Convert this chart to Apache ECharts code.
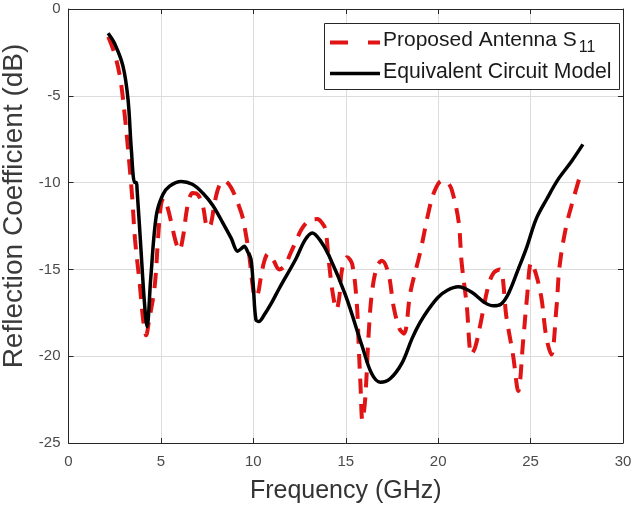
<!DOCTYPE html>
<html><head><meta charset="utf-8">
<script src="https://cdn.jsdelivr.net/npm/echarts@6/dist/echarts.min.js"></script>
<style>html,body{margin:0;padding:0;background:#fff}#c{width:634px;height:508px}</style>
</head><body><div id="c"></div>
<script>
// Proposed Antenna S11 (measured), frequency in GHz
const s11Freq = [2.15,2.5,2.8,3.05,3.3,3.45,3.6,3.85,4.05,4.2,4.35,4.66,4.84,5.0,5.15,5.35,5.56,5.8,6.0,6.2,6.45,6.72,7.0,7.26,7.53,7.7,7.9,8.15,8.43,8.8,9.24,9.42,9.6,9.78,9.96,10.1,10.25,10.4,10.6,10.8,11.1,11.4,11.7,12.0,12.3,12.6,13.0,13.46,13.7,13.9,14.09,14.3,14.5,14.65,14.8,15.08,15.35,15.6,15.7,15.8,15.9,16.05,16.24,16.42,16.7,16.96,17.3,17.6,17.9,18.15,18.5,19.03,19.48,19.8,20.2,20.5,20.73,21.1,21.27,21.54,21.8,22.0,22.26,22.7,23.0,23.34,23.7,24.06,24.33,24.6,24.8,25.04,25.3,25.58,25.85,26.12,26.4,26.57,26.93,27.3,27.65];
const s11Vals = [-1.6,-2.6,-4.0,-6.2,-9.0,-10.9,-13.3,-15.8,-18.0,-18.8,-18.0,-16.0,-13.3,-11.3,-10.9,-11.4,-12.3,-13.4,-13.9,-13.1,-11.3,-10.6,-10.7,-11.3,-12.6,-12.4,-11.2,-10.2,-9.9,-10.3,-11.4,-12.0,-13.0,-14.2,-15.9,-16.6,-16.4,-15.5,-14.5,-14.1,-14.5,-15.0,-14.8,-14.1,-13.4,-12.7,-12.2,-12.1,-12.3,-12.7,-14.6,-16.4,-17.3,-16.6,-15.0,-14.3,-14.7,-17.0,-19.4,-21.7,-23.7,-22.5,-18.7,-16.3,-14.8,-14.5,-15.2,-17.2,-18.4,-18.7,-16.3,-14.0,-11.7,-10.5,-9.9,-10.0,-10.4,-12.2,-14.6,-17.0,-19.9,-19.5,-18.3,-16.0,-15.2,-15.0,-17.8,-20.0,-22.0,-19.1,-16.7,-14.6,-15.3,-16.6,-18.9,-19.9,-17.2,-14.8,-12.5,-11.0,-9.7];
// Equivalent circuit model
const ecmFreq = [2.14,2.5,2.95,3.22,3.4,3.58,3.67,3.71,3.9,4.1,4.25,4.45,4.75,5.1,5.47,6.1,6.7,7.26,7.8,8.34,8.8,9.15,9.35,9.51,9.7,9.87,10.0,10.14,10.3,10.6,11.0,11.4,12.3,12.8,13.19,13.6,14.09,14.99,15.88,16.4,16.87,17.4,18.04,18.58,19.0,19.48,20.0,20.5,21.09,21.8,22.5,23.0,23.4,23.8,24.33,24.8,25.3,25.9,26.48,27.2,27.83];
const ecmVals = [-1.4,-2.0,-3.3,-5.2,-8.1,-10.0,-10.0,-10.4,-13.5,-16.8,-18.3,-15.5,-11.9,-10.7,-10.2,-9.93,-10.1,-10.6,-11.3,-12.3,-13.2,-13.95,-13.8,-13.66,-14.0,-14.4,-16.0,-17.9,-18.0,-17.6,-16.9,-16.1,-14.4,-13.3,-12.9,-13.3,-14.2,-16.5,-19.4,-21.0,-21.5,-21.3,-20.4,-19.0,-18.1,-17.3,-16.6,-16.2,-16.0,-16.3,-16.9,-17.1,-17.0,-16.4,-15.0,-13.7,-12.1,-10.9,-9.83,-8.8,-7.8];
const xTicks = [0,5,10,15,20,25,30];
const yTicks = [-25,-20,-15,-10,-5,0];
const seriesNames = ['Proposed Antenna S', 'Equivalent Circuit Model'];
const subscript = '11';

const zip = (a,b)=>a.map((v,i)=>[v,b[i]]);
const chart = echarts.init(document.getElementById('c'));
const font = 'Liberation Sans, Arial, sans-serif';
const lblColor = '#4a4a4a';
const frame = '#262626';
const red = '#e01414';
const baseX = {type:'value',min:xTicks[0],max:xTicks[xTicks.length-1],interval:5};
const baseY = {type:'value',min:yTicks[0],max:yTicks[yTicks.length-1],interval:5};
const tick = {show:true,inside:true,length:5,lineStyle:{color:frame}};
const line = {show:true,onZero:false,lineStyle:{color:frame}};
chart.setOption({
  animation:false,
  backgroundColor:'#fff',
  grid:{left:68.5,right:11,top:9,bottom:65,containLabel:false,outerBoundsMode:'none'},
  xAxis:[
    Object.assign({},baseX,{position:'bottom',name:'Frequency (GHz)',nameLocation:'middle',nameGap:36,
      nameTextStyle:{fontFamily:font,fontSize:25,color:'#333'},
      axisLine:line,axisTick:tick,
      axisLabel:{fontFamily:font,fontSize:15,color:lblColor,margin:11},
      splitLine:{show:true,lineStyle:{color:'#dcdcdc',width:1}}}),
    Object.assign({},baseX,{position:'top',axisLine:line,axisTick:tick,axisLabel:{show:false},splitLine:{show:false}})
  ],
  yAxis:[
    Object.assign({},baseY,{position:'left',name:'Reflection Coefficient (dB)',nameLocation:'middle',nameGap:32,
      nameTextStyle:{fontFamily:font,fontSize:28,color:'#3a3a3a',padding:[0,0,0,40]},
      axisLine:line,axisTick:tick,
      axisLabel:{fontFamily:font,fontSize:15,color:lblColor,margin:8},
      splitLine:{show:true,lineStyle:{color:'#dcdcdc',width:1}}}),
    Object.assign({},baseY,{position:'right',axisLine:line,axisTick:tick,axisLabel:{show:false},splitLine:{show:false}})
  ],
  graphic:[
    {type:'rect',shape:{x:324.5,y:23.5,width:295,height:66},style:{fill:'#fff',stroke:frame,lineWidth:1},z:100},
    {type:'line',shape:{x1:330,y1:42.5,x2:380,y2:42.5},style:{stroke:red,lineWidth:4,lineDash:[18,20]},z:101},
    {type:'line',shape:{x1:330,y1:73.5,x2:380,y2:73.5},style:{stroke:'#000',lineWidth:3.5},z:101},
    {type:'text',x:383,y:40,z:101,style:{text:'{a|'+seriesNames[0]+'}{s|'+subscript+'}',verticalAlign:'middle',
      rich:{a:{fontFamily:font,fontSize:21,fill:'#1a1a1a'},s:{fontFamily:font,fontSize:16,fill:'#1a1a1a',padding:[16,0,0,2]}}}},
    {type:'text',x:383,y:72,z:101,style:{text:seriesNames[1],font:'21.2px Liberation Sans, Arial, sans-serif',fill:'#1a1a1a',verticalAlign:'middle'}}
  ],
  series:[
    {name:'Proposed Antenna S11',type:'line',data:zip(s11Freq,s11Vals),showSymbol:false,symbol:'none',smooth:0.35,
      lineStyle:{color:red,width:4,type:[15,10]},itemStyle:{color:red},z:2},
    {name:'Equivalent Circuit Model',type:'line',data:zip(ecmFreq,ecmVals),showSymbol:false,symbol:'none',smooth:0.35,
      lineStyle:{color:'#000',width:3.5},itemStyle:{color:'#000'},z:3}
  ]
});
</script></body></html>
